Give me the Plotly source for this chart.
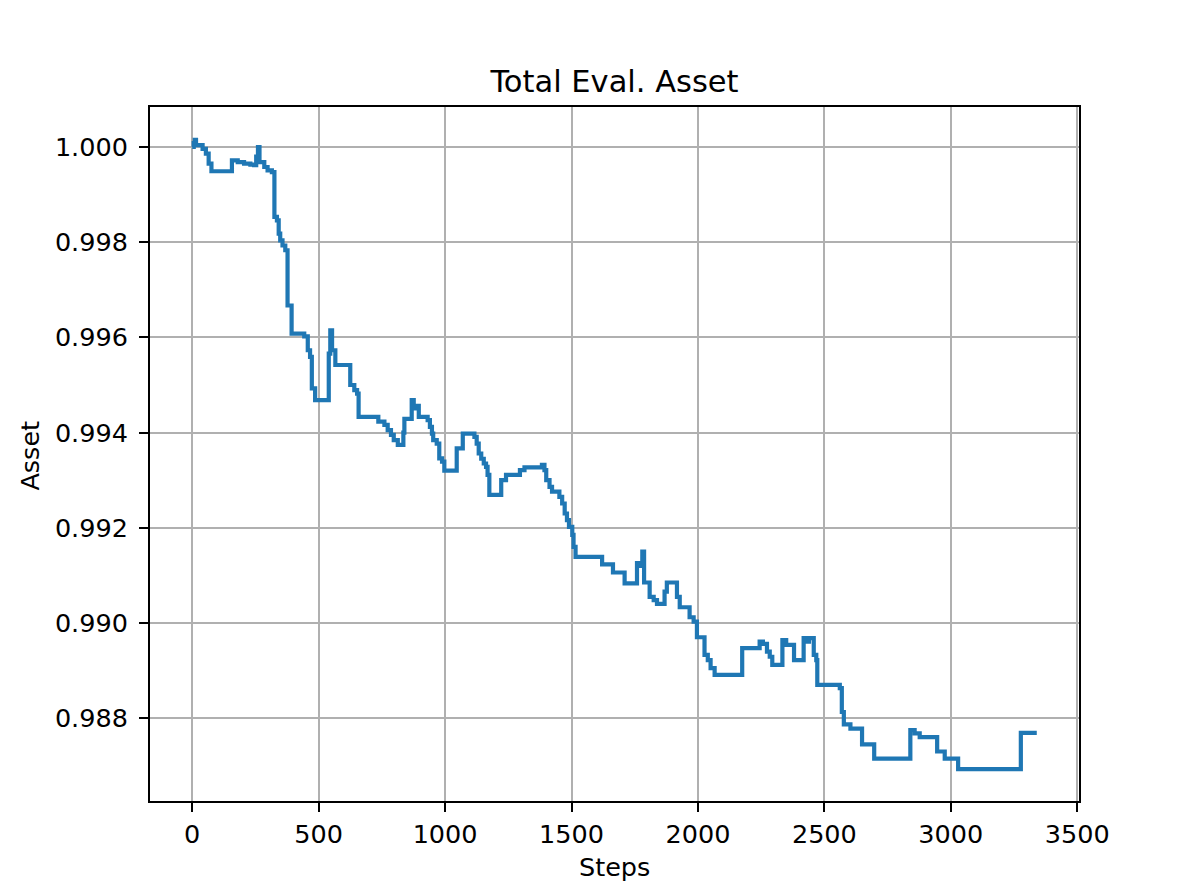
import plotly.graph_objects as go

# Step-change points: value holds from each step until the next one
steps = [0, 6, 10, 15, 41, 54, 65, 76, 157, 180, 205, 230, 245, 253, 260, 266, 285, 298, 315,
         325, 335, 342, 348, 357, 368, 377, 393, 443, 457, 466, 473, 486, 540, 546, 553, 566,
         625, 641, 652, 658, 736, 760, 773, 786, 797, 813, 835, 839, 868, 876, 889, 896, 931,
         940, 948, 953, 967, 977, 988, 997, 1046, 1070, 1116, 1125, 1133, 1143, 1153, 1162,
         1168, 1175, 1222, 1241, 1296, 1314, 1383, 1393, 1400, 1413, 1423, 1452, 1463, 1473,
         1482, 1490, 1503, 1508, 1516, 1621, 1664, 1710, 1759, 1775, 1780, 1787, 1809, 1825,
         1838, 1868, 1877, 1917, 1928, 1967, 1983, 1996, 2026, 2039, 2050, 2066, 2175, 2244,
         2257, 2273, 2284, 2294, 2334, 2349, 2380, 2418, 2429, 2439, 2458, 2468, 2472, 2561,
         2569, 2577, 2603, 2649, 2697, 2840, 2857, 2877, 2946, 2976, 3029, 3277, 3340]
asset = [1.00000, 1.00008, 1.00015, 1.00004, 0.99996, 0.99986, 0.99965, 0.99949, 0.99972,
         0.99968, 0.99965, 0.99963, 0.99962, 0.99980, 1.00000, 0.99968, 0.99958, 0.99951,
         0.99947, 0.99853, 0.99846, 0.99818, 0.99804, 0.99793, 0.99783, 0.99667, 0.99608,
         0.99602, 0.99573, 0.99559, 0.99493, 0.99468, 0.99566, 0.99615, 0.99573, 0.99542,
         0.99500, 0.99489, 0.99482, 0.99433, 0.99423, 0.99416, 0.99405, 0.99395, 0.99384,
         0.99374, 0.99400, 0.99429, 0.99468, 0.99451, 0.99456, 0.99433, 0.99426, 0.99412,
         0.99398, 0.99384, 0.99377, 0.99346, 0.99339, 0.99320, 0.99367, 0.99398, 0.99391,
         0.99377, 0.99356, 0.99345, 0.99335, 0.99328, 0.99311, 0.99269, 0.99300, 0.99311,
         0.99321, 0.99327, 0.99332, 0.99321, 0.99300, 0.99286, 0.99276, 0.99265, 0.99251,
         0.99230, 0.99216, 0.99202, 0.99185, 0.99160, 0.99139, 0.99123, 0.99106, 0.99083,
         0.99126, 0.99120, 0.99150, 0.99085, 0.99055, 0.99048, 0.99040, 0.99066, 0.99085,
         0.99055, 0.99033, 0.99012, 0.99003, 0.98970, 0.98933, 0.98922, 0.98905, 0.98891,
         0.98947, 0.98961, 0.98956, 0.98940, 0.98929, 0.98912, 0.98964, 0.98954, 0.98922,
         0.98968, 0.98961, 0.98968, 0.98933, 0.98922, 0.98870, 0.98863, 0.98813, 0.98787,
         0.98778, 0.98745, 0.98715, 0.98775, 0.98768, 0.98760, 0.98730, 0.98715, 0.98693,
         0.98769, 0.98769]

x_ticks = [0, 500, 1000, 1500, 2000, 2500, 3000, 3500]
y_ticks = [0.988, 0.990, 0.992, 0.994, 0.996, 0.998, 1.000]

title_text = "Total Eval. Asset"
x_label = "Steps"
y_label = "Asset"

FONT = "DejaVu Sans"

# the page body has an 8px margin; figure is sized so the plot lands where the reference has it
W, H = 1181, 879

fig = go.Figure()
fig.add_trace(go.Scatter(x=steps, y=asset, mode="lines", line_shape="hv",
                         line=dict(color="#1f77b4", width=4.2), showlegend=False,
                         hoverinfo="skip"))

axis_common = dict(
    showline=True, mirror=True, linecolor="black", linewidth=2,
    showgrid=True, gridcolor="#b0b0b0", gridwidth=2,
    ticks="outside", ticklen=9, tickwidth=2, tickcolor="black",
    zeroline=False,
    tickfont=dict(family=FONT, size=25.5, color="black"),
)

fig.update_xaxes(range=[-167, 3507], tickvals=x_ticks,
                 ticktext=[str(v) for v in x_ticks], ticklabelstandoff=0, **axis_common)
fig.update_yaxes(range=[0.98626, 1.00084], tickvals=y_ticks, tickformat=".3f",
                 ticklabelstandoff=6, **axis_common)

fig.update_layout(
    width=W, height=H,
    margin=dict(l=142, r=110, t=99, b=86, pad=0),
    paper_bgcolor="white", plot_bgcolor="white",
    title=dict(text=title_text, x=0.5, xref="paper", xanchor="center",
               y=1 - 73 / H, yref="container", yanchor="middle",
               font=dict(family=FONT, size=30.5, color="black")),
    annotations=[
        dict(text=x_label, xref="paper", yref="paper", x=0.5, y=-0.095,
             xanchor="center", yanchor="middle", showarrow=False,
             font=dict(family=FONT, size=25.5, color="black")),
        dict(text=y_label, xref="paper", yref="paper", x=-0.1286, y=0.497,
             xanchor="center", yanchor="middle", showarrow=False, textangle=-90,
             font=dict(family=FONT, size=25.5, color="black")),
    ],
)

fig.write_html("out.html")
